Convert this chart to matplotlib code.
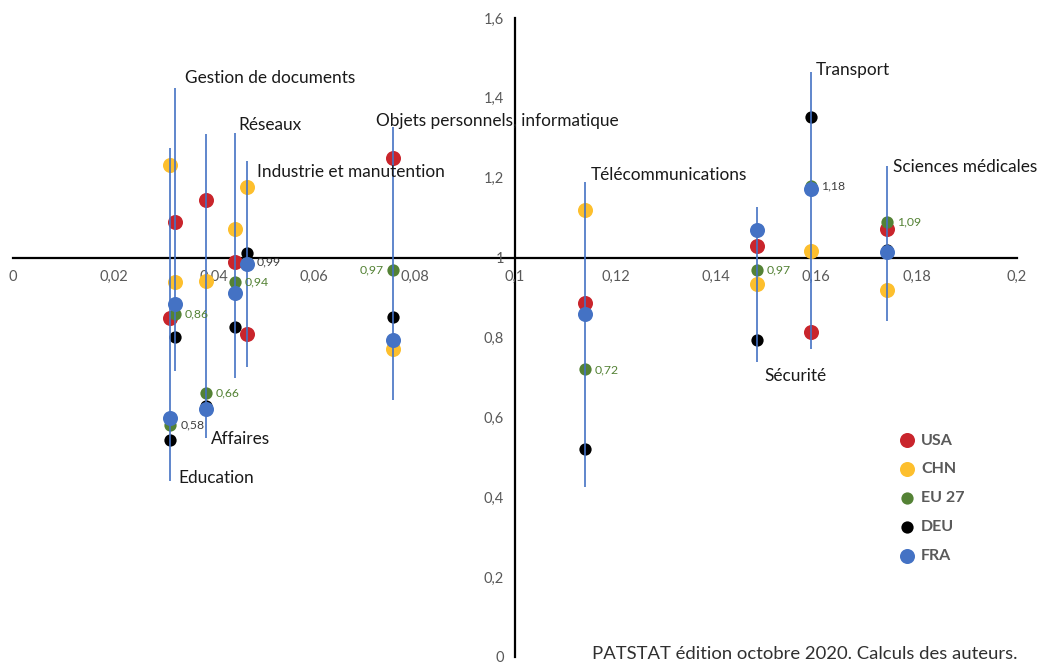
import matplotlib.pyplot as plt
from matplotlib.ticker import FuncFormatter

plt.rcParams['font.family'] = ['Lato', 'DejaVu Sans']

# Technology fields: specialisation index by country / zone
categories = ["Education", "Gestion de documents", "Affaires", "Réseaux",
              "Industrie et manutention", "Objets personnels, informatique",
              "Télécommunications", "Sécurité", "Transport", "Sciences médicales"]
share = [0.0313, 0.0322, 0.0384, 0.0442, 0.0466, 0.0756, 0.1139, 0.1482, 0.1589, 0.1742]

usa = [0.85, 1.09, 1.145, 0.99, 0.81, 1.25, 0.887, 1.029, 0.815, 1.072]
chn = [1.232, 0.939, 0.942, 1.072, 1.176, 0.771, 1.118, 0.934, 1.017, 0.918]
eu27 = [0.58, 0.86, 0.66, 0.94, 0.99, 0.97, 0.72, 0.97, 1.18, 1.09]
deu = [0.544, 0.802, 0.629, 0.827, 1.012, 0.852, 0.522, 0.794, 1.351, 1.018]
fra = [0.598, 0.883, 0.622, 0.912, 0.983, 0.794, 0.858, 1.068, 1.172, 1.014]

range_low = [0.441, 0.716, 0.549, 0.698, 0.725, 0.644, 0.426, 0.738, 0.771, 0.841]
range_high = [1.274, 1.424, 1.309, 1.312, 1.241, 1.326, 1.189, 1.126, 1.465, 1.230]

series = [("USA", usa, '#C9252C', 117), ("CHN", chn, '#FDBF2D', 117),
          ("EU 27", eu27, '#548235', 78), ("DEU", deu, '#000000', 78),
          ("FRA", fra, '#4472C4', 117)]

# where the category names sit
label_xy = [(0.0329, 0.449), (0.0343, 1.451), (0.0394, 0.546), (0.0448, 1.332),
            (0.0486, 1.214), (0.0723, 1.342), (0.1151, 1.207), (0.1496, 0.703),
            (0.1600, 1.469), (0.1753, 1.227)]
# EU 27 value label colours
value_colors = ['#404040', '#548235', '#548235', '#548235', '#404040',
                '#548235', '#548235', '#548235', '#404040', '#548235']

fig = plt.figure(figsize=(10.38, 6.66), dpi=100)
ax = fig.add_axes([13 / 1038, 9 / 666, 1004 / 1038, 639 / 666])
ax.set_xlim(0, 0.2)
ax.set_ylim(0, 1.6)

handles = []
for name, vals, col, s in series:
    h = ax.scatter(share, vals, s=s, color=col, label=name, zorder=2, linewidths=0)
    handles.append(h)

ax.vlines(share, range_low, range_high, color='#4472C4', lw=1.2, zorder=3)

for (lx, ly), name in zip(label_xy, categories):
    ax.text(lx, ly, name, fontsize=12.4, color='#1a1a1a', va='center', ha='left')

for i, v in enumerate(eu27):
    txt = f"{v:.2f}".replace('.', ',')
    if categories[i].startswith("Objets"):
        ax.annotate(txt, (share[i], v), xytext=(-9, 0), textcoords='offset pixels',
                    ha='right', va='center', fontsize=8.8, color=value_colors[i])
    else:
        ax.annotate(txt, (share[i], v), xytext=(10, 0), textcoords='offset pixels',
                    ha='left', va='center', fontsize=8.8, color=value_colors[i])

# axes crossing at (0.1, 1)
ax.spines['left'].set_position(('data', 0.1))
ax.spines['bottom'].set_position(('data', 1))
ax.spines['top'].set_visible(False)
ax.spines['right'].set_visible(False)
for sp in ('left', 'bottom'):
    ax.spines[sp].set_linewidth(1.6)
    ax.spines[sp].set_zorder(1)

fmt = FuncFormatter(lambda v, p: f"{v:g}".replace('.', ','))
ax.set_xticks([i * 0.02 for i in range(11)])
ax.set_yticks([i * 0.2 for i in range(9)])
ax.xaxis.set_major_formatter(fmt)
ax.yaxis.set_major_formatter(fmt)
ax.tick_params(axis='both', length=0, labelsize=10.5, labelcolor='#595959')
ax.tick_params(axis='x', pad=9)
ax.tick_params(axis='y', pad=8)

leg = ax.legend(handles=handles, loc='upper left', bbox_to_anchor=(884.6 / 1038, 1 - 419 / 666),
                bbox_transform=fig.transFigure, frameon=False, labelspacing=0.92,
                handlelength=1.0, handletextpad=0.375,
                prop={'weight': 'bold', 'size': 11.5}, scatterpoints=1)
for t in leg.get_texts():
    t.set_color('#595959')

fig.text(1018 / 1038, 1 - 654 / 666, "PATSTAT édition octobre 2020. Calculs des auteurs.",
         ha='right', va='center', fontsize=13.3, color='#303030')

plt.savefig("out.png", dpi=100)
